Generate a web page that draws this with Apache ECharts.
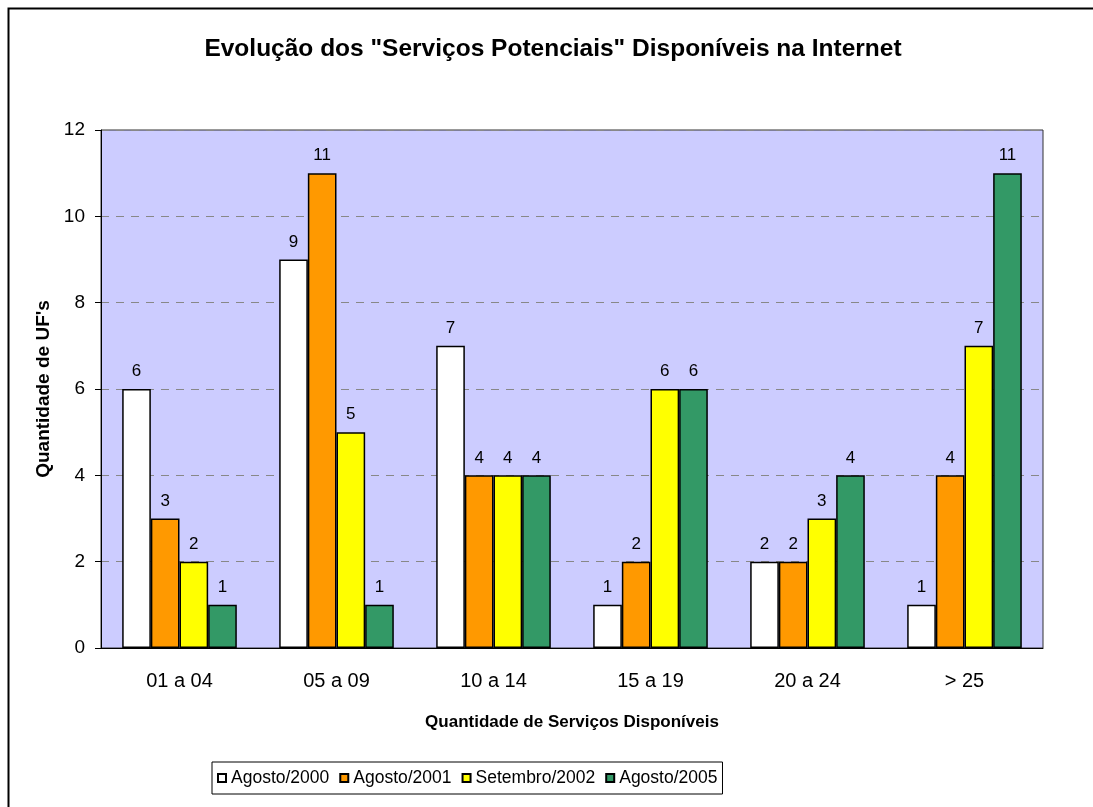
<!DOCTYPE html>
<html>
<head>
<meta charset="utf-8">
<title>Serviços Potenciais</title>
<script src="https://cdn.jsdelivr.net/npm/echarts@6/dist/echarts.min.js"></script>
<style>
  html, body { margin: 0; padding: 0; background: #fff; }
  #chart { width: 1093px; height: 807px; }
</style>
</head>
<body>
<div id="chart"></div>
<script>
// faixas de serviços disponíveis
const categories = ['01 a 04', '05 a 09', '10 a 14', '15 a 19', '20 a 24', '> 25']
const seriesNames = ['Agosto/2000', 'Agosto/2001', 'Setembro/2002', 'Agosto/2005']
const ago2000 = [6, 9, 7, 1, 2, 1]
const ago2001 = [3, 11, 4, 2, 2, 4]
const set2002 = [2, 5, 4, 6, 3, 7]
const ago2005 = [1, 1, 4, 6, 4, 11]
const colors = ['#FFFFFF', '#FF9900', '#FFFF00', '#339966']

const chart = echarts.init(document.getElementById('chart'))
const font = 'Liberation Sans, Arial, sans-serif'

const makeSeries = (name, data, idx) => ({
  name: name,
  type: 'bar',
  data: data,
  barGap: '0%',
  barCategoryGap: '27%',
  itemStyle: {
    color: colors[idx],
    borderColor: '#000',
    borderWidth: 1.5
  },
  label: {
    show: true,
    position: 'top',
    distance: 9,
    color: '#000',
    fontFamily: font,
    fontSize: 17
  },
  emphasis: { disabled: true }
})

chart.setOption({
  animation: false,
  textStyle: { fontFamily: font },
  title: {
    text: 'Evolução dos "Serviços Potenciais" Disponíveis na Internet',
    left: 553,
    textAlign: 'center',
    top: 37,
    padding: 0,
    textStyle: {
      fontFamily: font,
      fontSize: 24.5,
      fontWeight: 'bold',
      color: '#000'
    }
  },
  graphic: [
    {
      type: 'polyline',
      shape: { points: [[8.5, 807], [8.5, 8.5], [1093, 8.5]] },
      style: { stroke: '#000', lineWidth: 2, fill: null },
      silent: true
    }
  ],
  grid: {
    left: 101,
    top: 130,
    right: 50,
    bottom: 159,
    show: true,
    backgroundColor: '#CCCCFF',
    borderColor: '#333',
    borderWidth: 1
  },
  legend: {
    data: seriesNames,
    left: 212,
    top: 762,
    itemWidth: 8,
    itemHeight: 8,
    itemGap: 10,
    padding: [7, 5],
    borderColor: '#000',
    borderWidth: 1,
    icon: 'rect',
    textStyle: {
      fontFamily: font,
      fontSize: 17.5,
      color: '#000'
    }
  },
  xAxis: {
    type: 'category',
    data: categories,
    name: 'Quantidade de Serviços Disponíveis',
    nameLocation: 'middle',
    nameGap: 66,
    nameTextStyle: {
      fontFamily: font,
      fontSize: 17,
      fontWeight: 'bold',
      color: '#000'
    },
    axisLine: { lineStyle: { color: '#000', width: 1 } },
    axisTick: { length: 6, lineStyle: { color: '#000' } },
    axisLabel: {
      margin: 23,
      color: '#000',
      fontFamily: font,
      fontSize: 20
    }
  },
  yAxis: {
    type: 'value',
    min: 0,
    max: 12,
    interval: 2,
    name: "Quantidade de UF's",
    nameLocation: 'middle',
    nameGap: 47,
    nameTextStyle: {
      fontFamily: font,
      fontSize: 19,
      fontWeight: 'bold',
      color: '#000'
    },
    axisLine: { show: true, lineStyle: { color: '#000', width: 1 } },
    axisTick: { show: true, length: 6, lineStyle: { color: '#000' } },
    axisLabel: {
      margin: 16,
      color: '#000',
      fontFamily: font,
      fontSize: 19
    },
    splitLine: {
      lineStyle: {
        color: '#888',
        type: [8, 7],
        width: 1
      }
    }
  },
  series: [
    makeSeries(seriesNames[0], ago2000, 0),
    makeSeries(seriesNames[1], ago2001, 1),
    makeSeries(seriesNames[2], set2002, 2),
    makeSeries(seriesNames[3], ago2005, 3)
  ]
})
</script>
</body>
</html>
